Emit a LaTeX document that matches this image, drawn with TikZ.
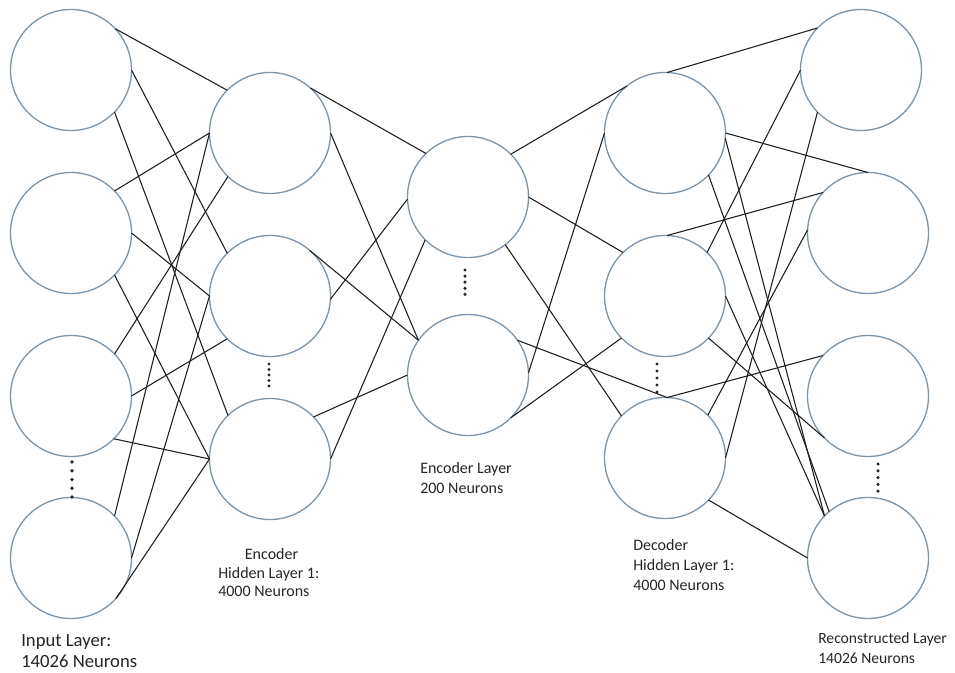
\documentclass[tikz,border=0pt]{standalone}
\usepackage{fontspec}
\setmainfont{Carlito}
\definecolor{neuronedge}{RGB}{125,150,170}
\definecolor{linkcol}{RGB}{30,30,30}
\begin{document}
\begin{tikzpicture}[x=0.75pt,y=-0.75pt,
  neuron/.style={circle,draw=neuronedge,line width=1pt,minimum size=90.75pt,inner sep=0pt,outer sep=0pt},
  link/.style={draw=linkcol,line width=0.8pt},
  caption/.style={align=left,anchor=north west,inner sep=0pt,text=black!85,font=\fontsize{12}{14}\selectfont},
  dot/.style={fill=black!85}
  ]
\useasboundingbox[fill=white] (0,0) rectangle (955,673);

% input layer
\node[neuron] (i1) at (71,70) {};
\node[neuron] (i2) at (71,233) {};
\node[neuron] (i3) at (71,396) {};
\node[neuron] (i4) at (71,558) {};
% encoder hidden layer
\node[neuron] (e1) at (270,133) {};
\node[neuron] (e2) at (270,296) {};
\node[neuron] (e3) at (270,459) {};
% encoder (code) layer
\node[neuron] (m1) at (468,197) {};
\node[neuron] (m2) at (468,375) {};
% decoder hidden layer
\node[neuron] (d1) at (665,133) {};
\node[neuron] (d2) at (665,296) {};
\node[neuron] (d3) at (665,458) {};
% reconstructed layer
\node[neuron] (r1) at (861,70) {};
\node[neuron] (r2) at (868,233) {};
\node[neuron] (r3) at (868,396) {};
\node[neuron] (r4) at (868,558) {};

% input -> encoder hidden
\draw[link] (i1.43) -- (e1.135);
\draw[link] (i1.0) -- (e2.135);
\draw[link] (i1.-44) -- (e3.134);
\draw[link] (i2.44) -- (e1.180);
\draw[link] (i2.0) -- (e2.180);
\draw[link] (i2.-44) -- (e3.180);
\draw[link] (i3.44) -- (e1.226);
\draw[link] (i3.0) -- (e2.225);
\draw[link] (i3.-45) -- (e3.180);
\draw[link] (i4.44) -- (e1.180);
\draw[link] (i4.0) -- (e2.180);
\draw[link] (i4.-42) -- (e3.180);

% encoder hidden -> code layer
\draw[link] (e1.48) -- (m1.134);
\draw[link] (e1.0) -- (m2.145);
\draw[link] (e2.-3) -- (m1.182);
\draw[link] (e2.49) -- (m2.145);
\draw[link] (e3.0) -- (m1.225);
\draw[link] (e3.44) -- (m2.180);

% code layer -> decoder hidden
\draw[link] (m1.45) -- (d1.129);
\draw[link] (m1.0) -- (d2.134);
\draw[link] (m1.-52) -- (d3.136);
\draw[link] (m2.2) -- (d1.180);
\draw[link] (m2.-45) -- (d2.224);
\draw[link] (m2.35) -- (d3.88);

% decoder hidden -> reconstructed
\draw[link] (d1.88) -- (r1.136);
\draw[link] (d1.0) -- (r2.90);
\draw[link] (d1.-5) -- (r4.136);
\draw[link] (d1.-44) -- (r4.130);
\draw[link] (d2.46) -- (r1.180);
\draw[link] (d2.88) -- (r2.138);
\draw[link] (d2.0) -- (r4.136);
\draw[link] (d2.-44) -- (r3.224);
\draw[link] (d3.0) -- (r1.224);
\draw[link] (d3.45) -- (r2.177);
\draw[link] (d3.88) -- (r3.138);
\draw[link] (d3.-44) -- (r4.180);

% vertical ellipses between neurons
\foreach \k in {0,...,4} {
  \fill[dot] (72,462+\k*8.75) circle (1.35pt);
  \fill[dot] (269,364+\k*5.5) circle (1.3pt);
  \fill[dot] (465,270+\k*6.1) circle (1.3pt);
  \fill[dot] (657,364+\k*7) circle (1.3pt);
  \fill[dot] (878,464+\k*6.8) circle (1.3pt);
}

% layer captions
\node[caption,font=\fontsize{14}{16}\selectfont] (capin) at (21,634) {Input Layer:\\14026 Neurons};
\node[caption] (capenc) at (218,548) {\hspace*{20pt}Encoder\\Hidden Layer 1:\\4000 Neurons};
\node[caption,font=\fontsize{12}{15}\selectfont] (capcode) at (420,462) {Encoder Layer\\200 Neurons};
\node[caption,font=\fontsize{12}{15}\selectfont] (capdec) at (633,539) {Decoder\\Hidden Layer 1:\\4000 Neurons};
\node[caption,font=\fontsize{11.7}{15}\selectfont] (caprec) at (818,632) {Reconstructed Layer\\14026 Neurons};
\end{tikzpicture}
\end{document}
